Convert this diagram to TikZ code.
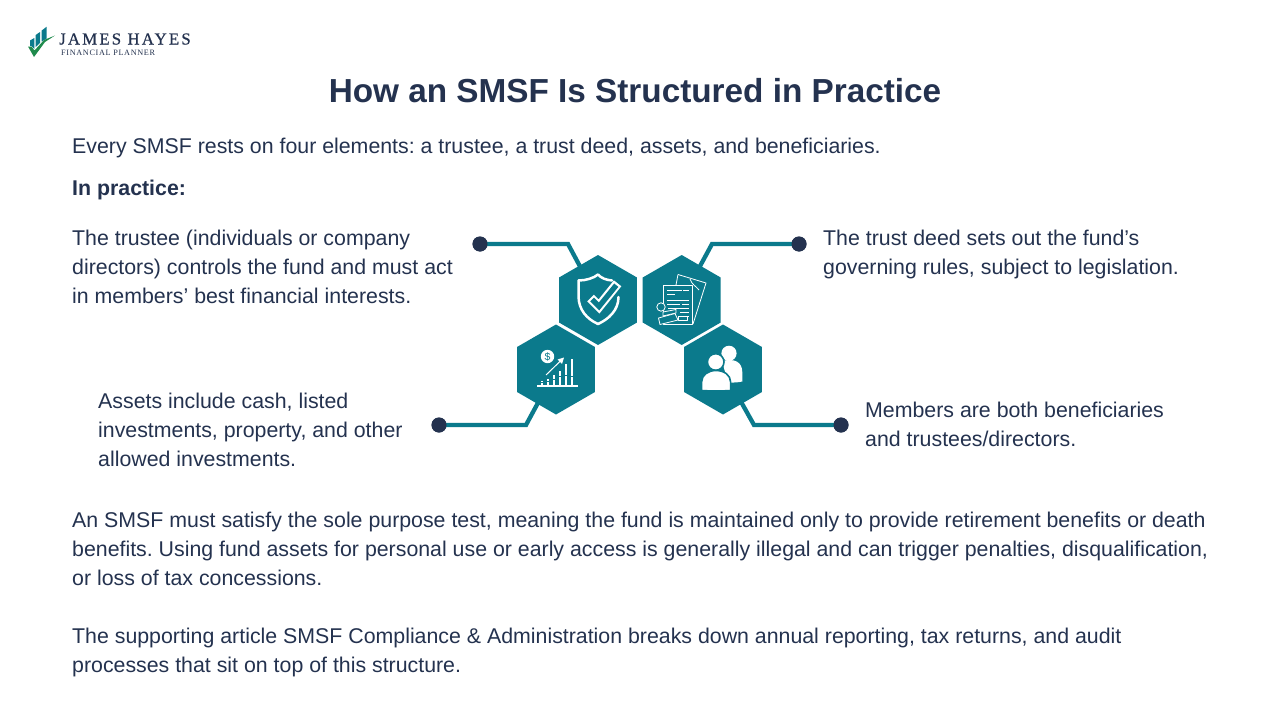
\documentclass[tikz,border=0pt]{standalone}
\usepackage{fontspec}
\setmainfont{Liberation Sans}
\newfontfamily\logofont[LetterSpace=13,FakeBold=0.6]{Liberation Serif}
\newfontfamily\logosubfont[LetterSpace=8]{Liberation Serif}
\usetikzlibrary{shapes.geometric}
\definecolor{ink}{HTML}{24324F}
\definecolor{tealc}{HTML}{0B7A8C}
\definecolor{logogreen}{HTML}{1F8A4C}
\tikzset{
 x=1pt,y=-1pt,
 body/.style={anchor=north west,inner sep=0pt,align=left,text=ink,font=\fontsize{21.33}{29}\selectfont\frenchspacing},
 hexa/.style={regular polygon,regular polygon sides=6,shape border rotate=30,minimum size=90pt,inner sep=0pt,fill=tealc},
 dot/.style={circle,fill=ink,minimum size=15pt,inner sep=0pt},
 link/.style={draw=tealc,line width=4.3pt,line join=miter},
 ic/.style={draw=white,line width=2.5pt,line join=round,line cap=round},
 thin/.style={draw=white,line width=.8pt,line join=round},
}
\begin{document}
\begin{tikzpicture}
\useasboundingbox (0,0) rectangle (1280,720);
\fill[white] (0,0) rectangle (1280,720);
% logo
\fill[tealc] (30,40.5) -- (34.3,38) -- (34.3,49) -- (31.5,46) -- (30,46) -- cycle;
\fill[tealc] (35.7,35) -- (40,32) -- (40,43) -- (35.7,47) -- cycle;
\fill[tealc] (41.7,30.5) -- (46.7,26.7) -- (46.7,38.5) -- (41.7,41.5) -- cycle;
\fill[logogreen] (28,46.5) -- (31.5,46.5) -- (34.5,50.5) -- (44,40) -- (55,35.5) -- (45,42) -- (34,57) -- cycle;
\node[anchor=base west,inner sep=0pt,text=ink,font=\logofont\fontsize{16.8}{17}\selectfont] (brand) at (59,44.5) {JAMES HAYES};
\node[anchor=base west,inner sep=0pt,text=ink,font=\logosubfont\fontsize{8.2}{8}\selectfont] (sub) at (61,55) {FINANCIAL PLANNER};
% title
\node[anchor=center,inner sep=0pt,text=ink,font=\fontsize{33.3}{36}\selectfont\bfseries] (title) at (635,91) {How an SMSF Is Structured in Practice};
% texts
\node[body] (intro) at (72,138) {Every SMSF rests on four elements: a trustee, a trust deed, assets, and beneficiaries.};
\node[body,font=\fontsize{21.33}{29}\selectfont\bfseries] (prac) at (72,180) {In practice:};
\node[body] (t1) at (72,230) {The trustee (individuals or company\\directors) controls the fund and must act\\in members’ best financial interests.};
\node[body] (t2) at (823,230) {The trust deed sets out the fund’s\\governing rules, subject to legislation.};
\node[body] (t3) at (98,393) {Assets include cash, listed\\investments, property, and other\\allowed investments.};
\node[body] (t4) at (865,402) {Members are both beneficiaries\\and trustees/directors.};
\node[body] (p1) at (72,512) {An SMSF must satisfy the sole purpose test, meaning the fund is maintained only to provide retirement benefits or death\\benefits. Using fund assets for personal use or early access is generally illegal and can trigger penalties, disqualification,\\or loss of tax concessions.};
\node[body] (p2) at (72,628) {The supporting article SMSF Compliance \& Administration breaks down annual reporting, tax returns, and audit\\processes that sit on top of this structure.};
% dots and bends
\node[dot] (d1) at (480,244) {};
\node[dot] (d2) at (799,244) {};
\node[dot] (d3) at (439,425) {};
\node[dot] (d4) at (841,425) {};
\coordinate (b1) at (568,244);
\coordinate (b2) at (712,244);
\coordinate (b3) at (526,425);
\coordinate (b4) at (754,425);
% hexagons centres
\coordinate (c1) at (598,300);
\coordinate (c2) at (681.7,300);
\coordinate (c3) at (556,369.5);
\coordinate (c4) at (723,369.5);
\draw[link] (d1.center) -- (b1) -- (c1);
\draw[link] (d2.center) -- (b2) -- (c2);
\draw[link] (d3.center) -- (b3) -- (c3);
\draw[link] (d4.center) -- (b4) -- (c4);
\node[dot] at (d1) {};
\node[dot] at (d2) {};
\node[dot] at (d3) {};
\node[dot] at (d4) {};
\node[hexa] (h1) at (c1) {};
\node[hexa] (h2) at (c2) {};
\node[hexa] (h3) at (c3) {};
\node[hexa] (h4) at (c4) {};
% shield icon
\draw[ic] (612,280.5) .. controls (606,280) and (601,278) .. (598,274.5) .. controls (594,278) and (586,280.5) .. (578.5,280.5) -- (578.5,296) .. controls (578.5,310) and (587,319) .. (598,324) .. controls (609,319) and (618.5,310) .. (618.5,297);
\draw[draw=white,line width=9.5pt,line join=miter] (590.5,298) -- (599,306.5) -- (617.6,283.3);
\draw[draw=tealc,line width=5.3pt,line join=miter] (592,299.5) -- (599,306.5) -- (616.3,285.2);
% document icon
\draw[thin] (678,274.5) -- (706,283) -- (693,324);
\draw[thin] (678,274.5) -- (676,285);
\draw[thin] (690,279) .. controls (692,285) and (696,286) .. (699,290);
\draw[thin,fill=tealc] (663.5,285) rectangle (692.5,324);
\foreach \ya/\xa/\xb in {290/667/682,290/683/689,294/667/675,300/667/689,304/667/680,304/682/689,308/668/689,312/680/689,316/684/689}{\draw[draw=white,line width=1pt] (\xa,\ya) -- (\xb,\ya);}
\draw[thin,fill=tealc] (661,307) circle (4.2);
\draw[thin,fill=tealc] (663,312) -- (676,309.5) -- (676,313) -- (663,316) -- cycle;
\draw[thin,fill=tealc] (658.5,318) -- (675,313.5) -- (678,320) -- (660,324.5) -- cycle;
\draw[thin] (678,316.5) rectangle (687,320.5);
% chart icon
\draw[draw=white,line width=1.2pt] (537,386) -- (578,386);
\foreach \xa/\ya in {542/381,548/379,554/375,560/371,566/364,572/359}{\draw[draw=white,line width=2.4pt] (\xa,384.5) -- (\xa,\ya);}
\foreach \xa/\ya in {542/382.8,548/381.5,554/379,560/376,566/375,572/376}{\draw[draw=tealc,line width=.8pt] (\xa-2,\ya) -- (\xa+2,\ya);}
\fill[white] (547.5,356.5) circle (6.7);
\node[inner sep=0pt,text=tealc,font=\fontsize{10.5}{11}\selectfont] (dollar) at (547.5,356.5) {\$};
\draw[draw=white,line width=1pt] (546,375) -- (563,358.5);
\fill[white] (564,357.5) -- (557.5,359.5) -- (562,364) -- cycle;
% people icon
\fill[white] (729,353.3) circle (7.6);
\fill[white] (722,361) .. controls (735,358) and (742,362) .. (742.3,372) -- (742.3,381.5) .. controls (738,382.5) and (733,382.7) .. (728,382.5) -- cycle;
\fill[white,draw=tealc,line width=1.6pt] (715.7,362) circle (8.3);
\fill[white,draw=tealc,line width=1.6pt] (701.6,390.6) -- (701.6,382) .. controls (701.6,375) and (708,370.5) .. (716,370.5) .. controls (724,370.5) and (730.6,375) .. (730.6,382) -- (730.6,390.6) .. controls (722,391) and (710,391) .. (701.6,390.6) -- cycle;
\end{tikzpicture}
\end{document}
